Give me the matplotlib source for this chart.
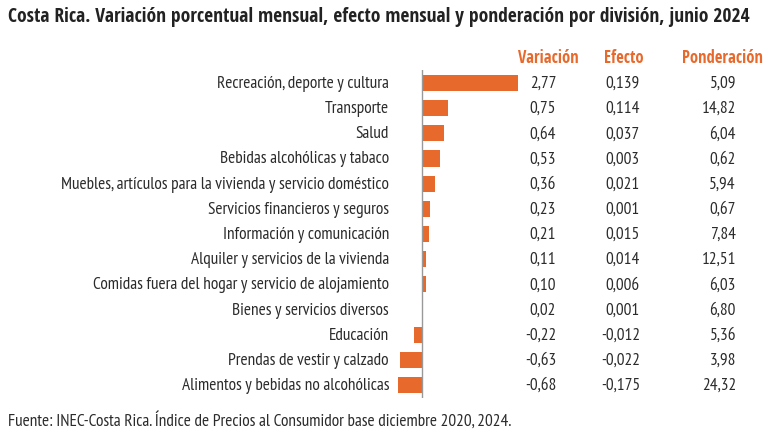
import matplotlib.pyplot as plt
from matplotlib.transforms import blended_transform_factory

categorias = ['Recreación, deporte y cultura', 'Transporte', 'Salud',
              'Bebidas alcohólicas y tabaco',
              'Muebles, artículos para la vivienda y servicio doméstico',
              'Servicios financieros y seguros', 'Información y comunicación',
              'Alquiler y servicios de la vivienda',
              'Comidas fuera del hogar y servicio de alojamiento',
              'Bienes y servicios diversos', 'Educación',
              'Prendas de vestir y calzado', 'Alimentos y bebidas no alcohólicas']
variacion = [2.77, 0.75, 0.64, 0.53, 0.36, 0.23, 0.21, 0.11, 0.10, 0.02, -0.22, -0.63, -0.68]
efecto = [0.139, 0.114, 0.037, 0.003, 0.021, 0.001, 0.015, 0.014, 0.006, 0.001, -0.012, -0.022, -0.175]
ponderacion = [5.09, 14.82, 6.04, 0.62, 5.94, 0.67, 7.84, 12.51, 6.03, 6.80, 5.36, 3.98, 24.32]

def coma(v, d):
    return f'{v:.{d}f}'.replace('.', ',')

plt.rcParams['font.family'] = ['PT Sans Narrow', 'DejaVu Sans']
negrita = ['Open Sans Condensed', 'DejaVu Sans']
naranja = '#E8692C'
gris = '#2b2b2b'

W, H = 771, 439
fig = plt.figure(figsize=(W / 100, H / 100), dpi=100)
ax = fig.add_axes([396 / W, 1 - 398.6 / H, (521 - 396) / W, (398.6 - 71.4) / H])
y = list(range(len(categorias)))
ax.barh(y, variacion, height=0.64, color=naranja)
ax.axvline(0, color='#999999', linewidth=1)
ax.set_xlim(-0.75, 2.85)
ax.set_ylim(12.5, -0.5)
ax.axis('off')

fs = 12.4
tr = blended_transform_factory(fig.transFigure, ax.transData)
for i in y:
    ax.text(389 / W, i, categorias[i], transform=tr, ha='right', va='center', fontsize=fs, color=gris)
    ax.text(556 / W, i, coma(variacion[i], 2), transform=tr, ha='right', va='center', fontsize=fs, color=gris)
    ax.text(640 / W, i, coma(efecto[i], 3), transform=tr, ha='right', va='center', fontsize=fs, color=gris)
    ax.text(736 / W, i, coma(ponderacion[i], 2), transform=tr, ha='right', va='center', fontsize=fs, color=gris)

for x, t in [(548, 'Variación'), (624, 'Efecto'), (722, 'Ponderación')]:
    fig.text(x / W, 1 - 58 / H, t, ha='center', va='center', fontsize=12, fontweight='bold',
             family=negrita, color=naranja)

fig.text(8 / W, 1 - 17 / H, 'Costa Rica. Variación porcentual mensual, efecto mensual y ponderación por división, junio 2024',
         ha='left', va='center', fontsize=14, fontweight='bold', family=negrita, color='#222222')
fig.text(8 / W, 1 - 421 / H, 'Fuente: INEC-Costa Rica. Índice de Precios al Consumidor base diciembre 2020, 2024.',
         ha='left', va='center', fontsize=fs, color=gris)

fig.savefig('out.png', dpi=100)
